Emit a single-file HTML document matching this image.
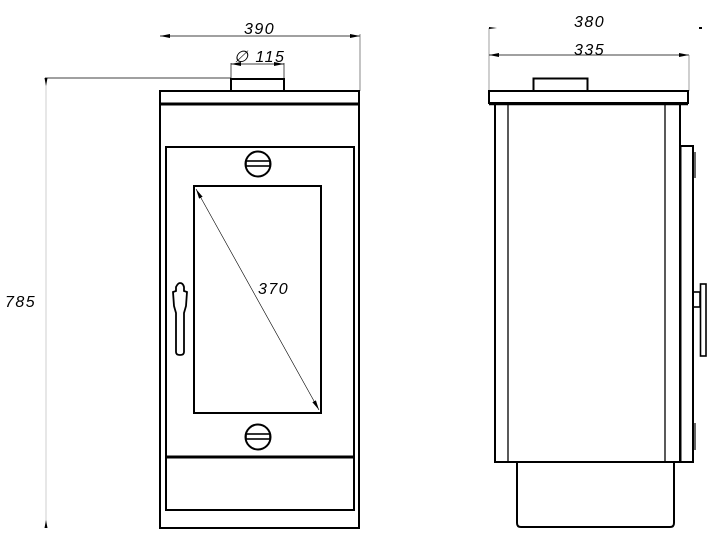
<!DOCTYPE html>
<html><head><meta charset="utf-8"><style>
html,body{margin:0;padding:0;background:#fff;}
svg{display:block}
text{font-family:"Liberation Sans",sans-serif;font-style:italic;font-size:16px;letter-spacing:1.5px;fill:#000}
</style></head><body>
<svg width="723" height="543" viewBox="0 0 723 543" xmlns="http://www.w3.org/2000/svg">
<defs>
<marker id="a" viewBox="0 0 10 4" refX="10" refY="2" markerWidth="10" markerHeight="4" orient="auto-start-reverse" markerUnits="userSpaceOnUse"><path d="M0,0 L10,2 L0,4z" fill="#000"/></marker>
</defs>
<g fill="none" stroke="#000">
<line x1="160" y1="36" x2="360" y2="36" stroke-width="0.7" marker-start="url(#a)" marker-end="url(#a)"/>
<line x1="360" y1="34" x2="360" y2="91" stroke-width="0.7" stroke="#555"/>
<line x1="231" y1="63" x2="231" y2="79" stroke-width="0.7"/>
<line x1="284" y1="63" x2="284" y2="79" stroke-width="0.7"/>
<line x1="231" y1="64" x2="284" y2="64" stroke-width="0.7" marker-start="url(#a)" marker-end="url(#a)"/>
<line x1="45" y1="78" x2="231" y2="78" stroke-width="0.8"/>
<line x1="46" y1="78" x2="46" y2="528" stroke-width="0.7" stroke="#bbb"/>
<path d="M44.5,78 L46,86 L47.5,78z M44.5,528 L46,520 L47.5,528z" fill="#000" stroke="none"/>
<line x1="196" y1="189" x2="319" y2="410" stroke-width="0.6" marker-start="url(#a)" marker-end="url(#a)"/>
<rect x="231" y="79" width="53" height="12" stroke-width="2"/>
<rect x="160" y="91" width="199" height="437" stroke-width="2"/>
<line x1="160" y1="104" x2="359" y2="104" stroke-width="3"/>
<rect x="166" y="147" width="188" height="363" stroke-width="2"/>
<line x1="166" y1="457" x2="354" y2="457" stroke-width="3"/>
<rect x="194" y="186" width="127" height="227" stroke-width="2"/>
<circle cx="258" cy="164" r="12.5" stroke-width="2"/>
<rect x="246" y="161" width="24" height="5" stroke-width="1.6"/>
<circle cx="258" cy="437" r="12.5" stroke-width="2"/>
<rect x="246" y="434" width="24" height="5" stroke-width="1.6"/>
<path d="M176,287 Q178,283 180,283 Q183,283 184,287 L184,291 L187,292 L186,306 L184,313 L184,352 Q184,355 180,355 Q176,355 176,352 L176,313 L174,306 L173,292 L176,291z" stroke-width="1.8"/>
<line x1="489" y1="28" x2="489" y2="91" stroke-width="0.7" stroke="#777"/>
<path d="M489,27 L497,28 L489,29z M699,27 L702,27 L702,29 L699,29z" fill="#000" stroke="none"/>
<line x1="489" y1="55" x2="689" y2="55" stroke-width="0.7" marker-start="url(#a)" marker-end="url(#a)"/>
<line x1="689" y1="55" x2="689" y2="91" stroke-width="0.7" stroke="#777"/>
<rect x="533.5" y="78.5" width="54" height="12.5" stroke-width="2"/>
<rect x="489" y="91" width="199" height="12" stroke-width="2"/>
<line x1="489" y1="104" x2="688" y2="104" stroke-width="2.5"/>
<rect x="495" y="104" width="185" height="358" stroke-width="2"/>
<line x1="508" y1="104" x2="508" y2="462" stroke-width="1.3"/>
<line x1="665" y1="104" x2="665" y2="462" stroke-width="1.3"/>
<rect x="680.5" y="146" width="12.5" height="316" stroke-width="2"/>
<line x1="695" y1="152" x2="695" y2="178" stroke-width="1.2"/>
<line x1="695" y1="423" x2="695" y2="450" stroke-width="1.2"/>
<rect x="693" y="292" width="7" height="15" stroke-width="1.6"/>
<rect x="700.5" y="284" width="5.5" height="72" stroke-width="1.6"/>
<path d="M517,463 L517,523 Q517,527 521,527 L670,527 Q674,527 674,523 L674,463" stroke-width="2"/>
</g>
<text x="244" y="34">390</text>
<text x="234" y="62">∅ 115</text>
<text x="5" y="307">785</text>
<text x="258" y="294">370</text>
<text x="574" y="27">380</text>
<text x="574" y="55">335</text>
</svg>
</body></html>
